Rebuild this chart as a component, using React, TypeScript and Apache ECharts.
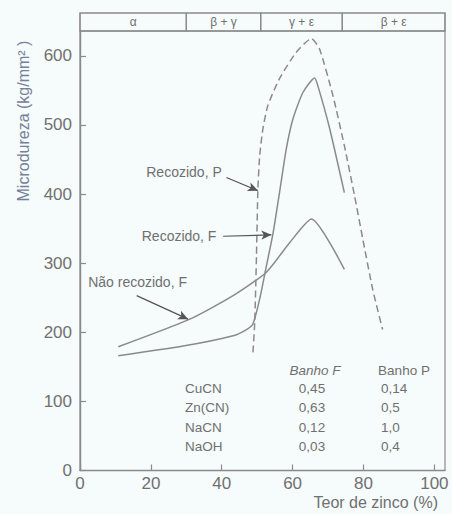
import React, { useEffect, useRef } from "react";
import * as echarts from "echarts";

// ---- data ----
const naoRecozidoF: [number, number][] = [
  [10.8, 179], [31.0, 219], [43.2, 253], [52.6, 287], [59.2, 330], [65.3, 364], [74.6, 291],
];
const recozidoF: [number, number][] = [
  [10.8, 166], [29.1, 180], [43.2, 195], [47.0, 204], [48.8, 212], [50.7, 248], [52.6, 296],
  [54.5, 344], [56.3, 402], [58.2, 465], [60.1, 509], [62.9, 547], [66.2, 568], [67.1, 557],
  [70.4, 496], [74.6, 402],
];
const recozidoP: [number, number][] = [
  [48.8, 171], [49.3, 214], [49.8, 311], [50.2, 407], [50.7, 455], [51.6, 494], [53.0, 528],
  [56.3, 567], [61.0, 605], [65.3, 625], [67.6, 610], [71.4, 542], [74.6, 470], [77.5, 397],
  [79.8, 335], [82.6, 262], [85.4, 204],
];
const phases: [number, number, string][] = [
  [0, 30, "α"], [30, 51, "β + γ"], [51, 74, "γ + ε"], [74, 103, "β + ε"],
];
const xTicks = [0, 20, 40, 60, 80, 100];
const yTicks = [0, 100, 200, 300, 400, 500, 600];
const tableHeaders = ["Banho F", "Banho P"];
const tableNames = ["CuCN", "Zn(CN)", "NaCN", "NaOH"];
const tableF = ["0,45", "0,63", "0,12", "0,03"];
const tableP = ["0,14", "0,5", "1,0", "0,4"];
// annotations: label, text anchor, arrow start and arrow tip (data coordinates)
const annotations: { text: string; at: [number, number]; align: string; from: [number, number]; to: [number, number] }[] = [
  { text: "Recozido, P", at: [40, 432], align: "right", from: [41.3, 424], to: [50.2, 405] },
  { text: "Recozido, F", at: [38.5, 339], align: "right", from: [40.4, 339], to: [54.0, 341] },
  { text: "Não recozido, F", at: [2.3, 273], align: "left", from: [16.0, 253], to: [30.5, 219] },
];

const FONT = "'Liberation Sans', Arial, sans-serif";
const LINE = "#8a8a8a";
const TXT = "#707070";

export default function App() {
  const ref = useRef<HTMLDivElement>(null);
  useEffect(() => {
    const chart = echarts.init(ref.current!, null, { renderer: "svg" });
    const arrowLine = (from: [number, number], to: [number, number]) => [
      { coord: from },
      { coord: to },
    ];
    const arrowML = (a: typeof annotations[number]) => ({
      silent: true, symbol: ["none", "arrow"], symbolSize: [7, 10], label: { show: false },
      lineStyle: { color: "#555", type: "solid", width: 1.2 }, data: [arrowLine(a.from, a.to)],
    });
    const option: any = {
      animation: false,
      backgroundColor: "#f6fbfb",
      grid: [
        { left: 80, right: 7, top: 31, bottom: 43.5, show: true, borderColor: LINE, borderWidth: 1.2, backgroundColor: "transparent" },
        { left: 80, right: 7, top: 13, height: 18, show: true, borderColor: LINE, borderWidth: 1.2, backgroundColor: "transparent" },
      ],
      xAxis: [
        {
          type: "value", gridIndex: 0, min: 0, max: 103,
          axisLine: { show: true, lineStyle: { color: LINE, width: 1.4 } },
          axisTick: { show: true, inside: true, length: 6, customValues: xTicks, lineStyle: { color: LINE, width: 1.2 } },
          axisLabel: { customValues: xTicks, color: TXT, fontSize: 17, fontFamily: FONT, margin: 4 },
          splitLine: { show: false },
        },
        { type: "value", gridIndex: 1, min: 0, max: 103, show: false },
      ],
      yAxis: [
        {
          type: "value", gridIndex: 0, min: 0, max: 636,
          axisLine: { show: true, lineStyle: { color: LINE, width: 1.4 } },
          axisTick: { show: true, inside: true, length: 6, customValues: yTicks, lineStyle: { color: LINE, width: 1.2 } },
          axisLabel: { customValues: yTicks, color: TXT, fontSize: 17, fontFamily: FONT, margin: 8 },
          splitLine: { show: false },
        },
        { type: "value", gridIndex: 1, min: 0, max: 1, show: false },
      ],
      series: [
        {
          type: "custom", xAxisIndex: 1, yAxisIndex: 1, silent: true,
          data: phases.map((p) => [p[0], p[1], p[2]]),
          renderItem: (params: any, api: any) => {
            const a = api.coord([api.value(0), 1]);
            const b = api.coord([api.value(1), 0]);
            const idx = params.dataIndex;
            return {
              type: "group",
              children: [
                { type: "rect", shape: { x: a[0], y: a[1], width: b[0] - a[0], height: b[1] - a[1] }, style: { fill: "none", stroke: LINE, lineWidth: 1.2 } },
                { type: "text", style: { text: phases[idx][2], x: (a[0] + b[0]) / 2, y: (a[1] + b[1]) / 2, align: "center", verticalAlign: "middle", fill: TXT, font: `12px ${FONT}` } },
              ],
            };
          },
        },
        {
          type: "line", name: "Não recozido, F", data: naoRecozidoF, showSymbol: false, symbol: "none",
          smooth: 0.2,
          lineStyle: { color: LINE, width: 1.5 },
          markLine: arrowML(annotations[2]),
        },
        {
          type: "line", name: "Recozido, F", data: recozidoF, showSymbol: false, symbol: "none",
          smooth: 0.2,
          lineStyle: { color: LINE, width: 1.5 },
          markLine: arrowML(annotations[1]),
        },
        {
          type: "line", name: "Recozido, P", data: recozidoP, showSymbol: false, symbol: "none",
          smooth: 0.2,
          lineStyle: { color: LINE, width: 1.5, type: [7, 4] },
          markLine: arrowML(annotations[0]),
        },
      ],
    };
    chart.setOption(option);

    const graphics: any[] = [];
    annotations.forEach((a) => {
      const p = chart.convertToPixel({ gridIndex: 0 }, a.at) as number[];
      graphics.push({ type: "text", x: p[0], y: p[1], style: { text: a.text, align: a.align, verticalAlign: "middle", fill: TXT, font: `14px ${FONT}` } });
    });
    graphics.push({ type: "text", x: 315, y: 370, style: { text: tableHeaders[0], align: "center", verticalAlign: "middle", fill: TXT, font: `italic 13.5px ${FONT}` } });
    graphics.push({ type: "text", x: 404, y: 370, style: { text: tableHeaders[1], align: "center", verticalAlign: "middle", fill: TXT, font: `13.5px ${FONT}` } });
    tableNames.forEach((n, i) => {
      const y = 388 + i * 19.6;
      graphics.push({ type: "text", x: 185, y, style: { text: n, align: "left", verticalAlign: "middle", fill: TXT, font: `13.5px ${FONT}` } });
      graphics.push({ type: "text", x: 312, y, style: { text: tableF[i], align: "center", verticalAlign: "middle", fill: TXT, font: `13.5px ${FONT}` } });
      graphics.push({ type: "text", x: 381, y, style: { text: tableP[i], align: "left", verticalAlign: "middle", fill: TXT, font: `13.5px ${FONT}` } });
    });
    graphics.push({ type: "text", x: 438, y: 502, style: { text: "Teor de zinco (%)", align: "right", verticalAlign: "middle", fill: TXT, font: `16px ${FONT}` } });
    graphics.push({ type: "text", x: 23, y: 121, rotation: Math.PI / 2, style: { text: "Microdureza (kg/mm² )", align: "center", verticalAlign: "middle", fill: "#75809a", font: `16px ${FONT}` } });
    chart.setOption({ graphic: graphics });

    return () => chart.dispose();
  }, []);
  return <div ref={ref} style={{ position: "fixed", left: 0, top: 0, width: 452, height: 514 }} />;
}
